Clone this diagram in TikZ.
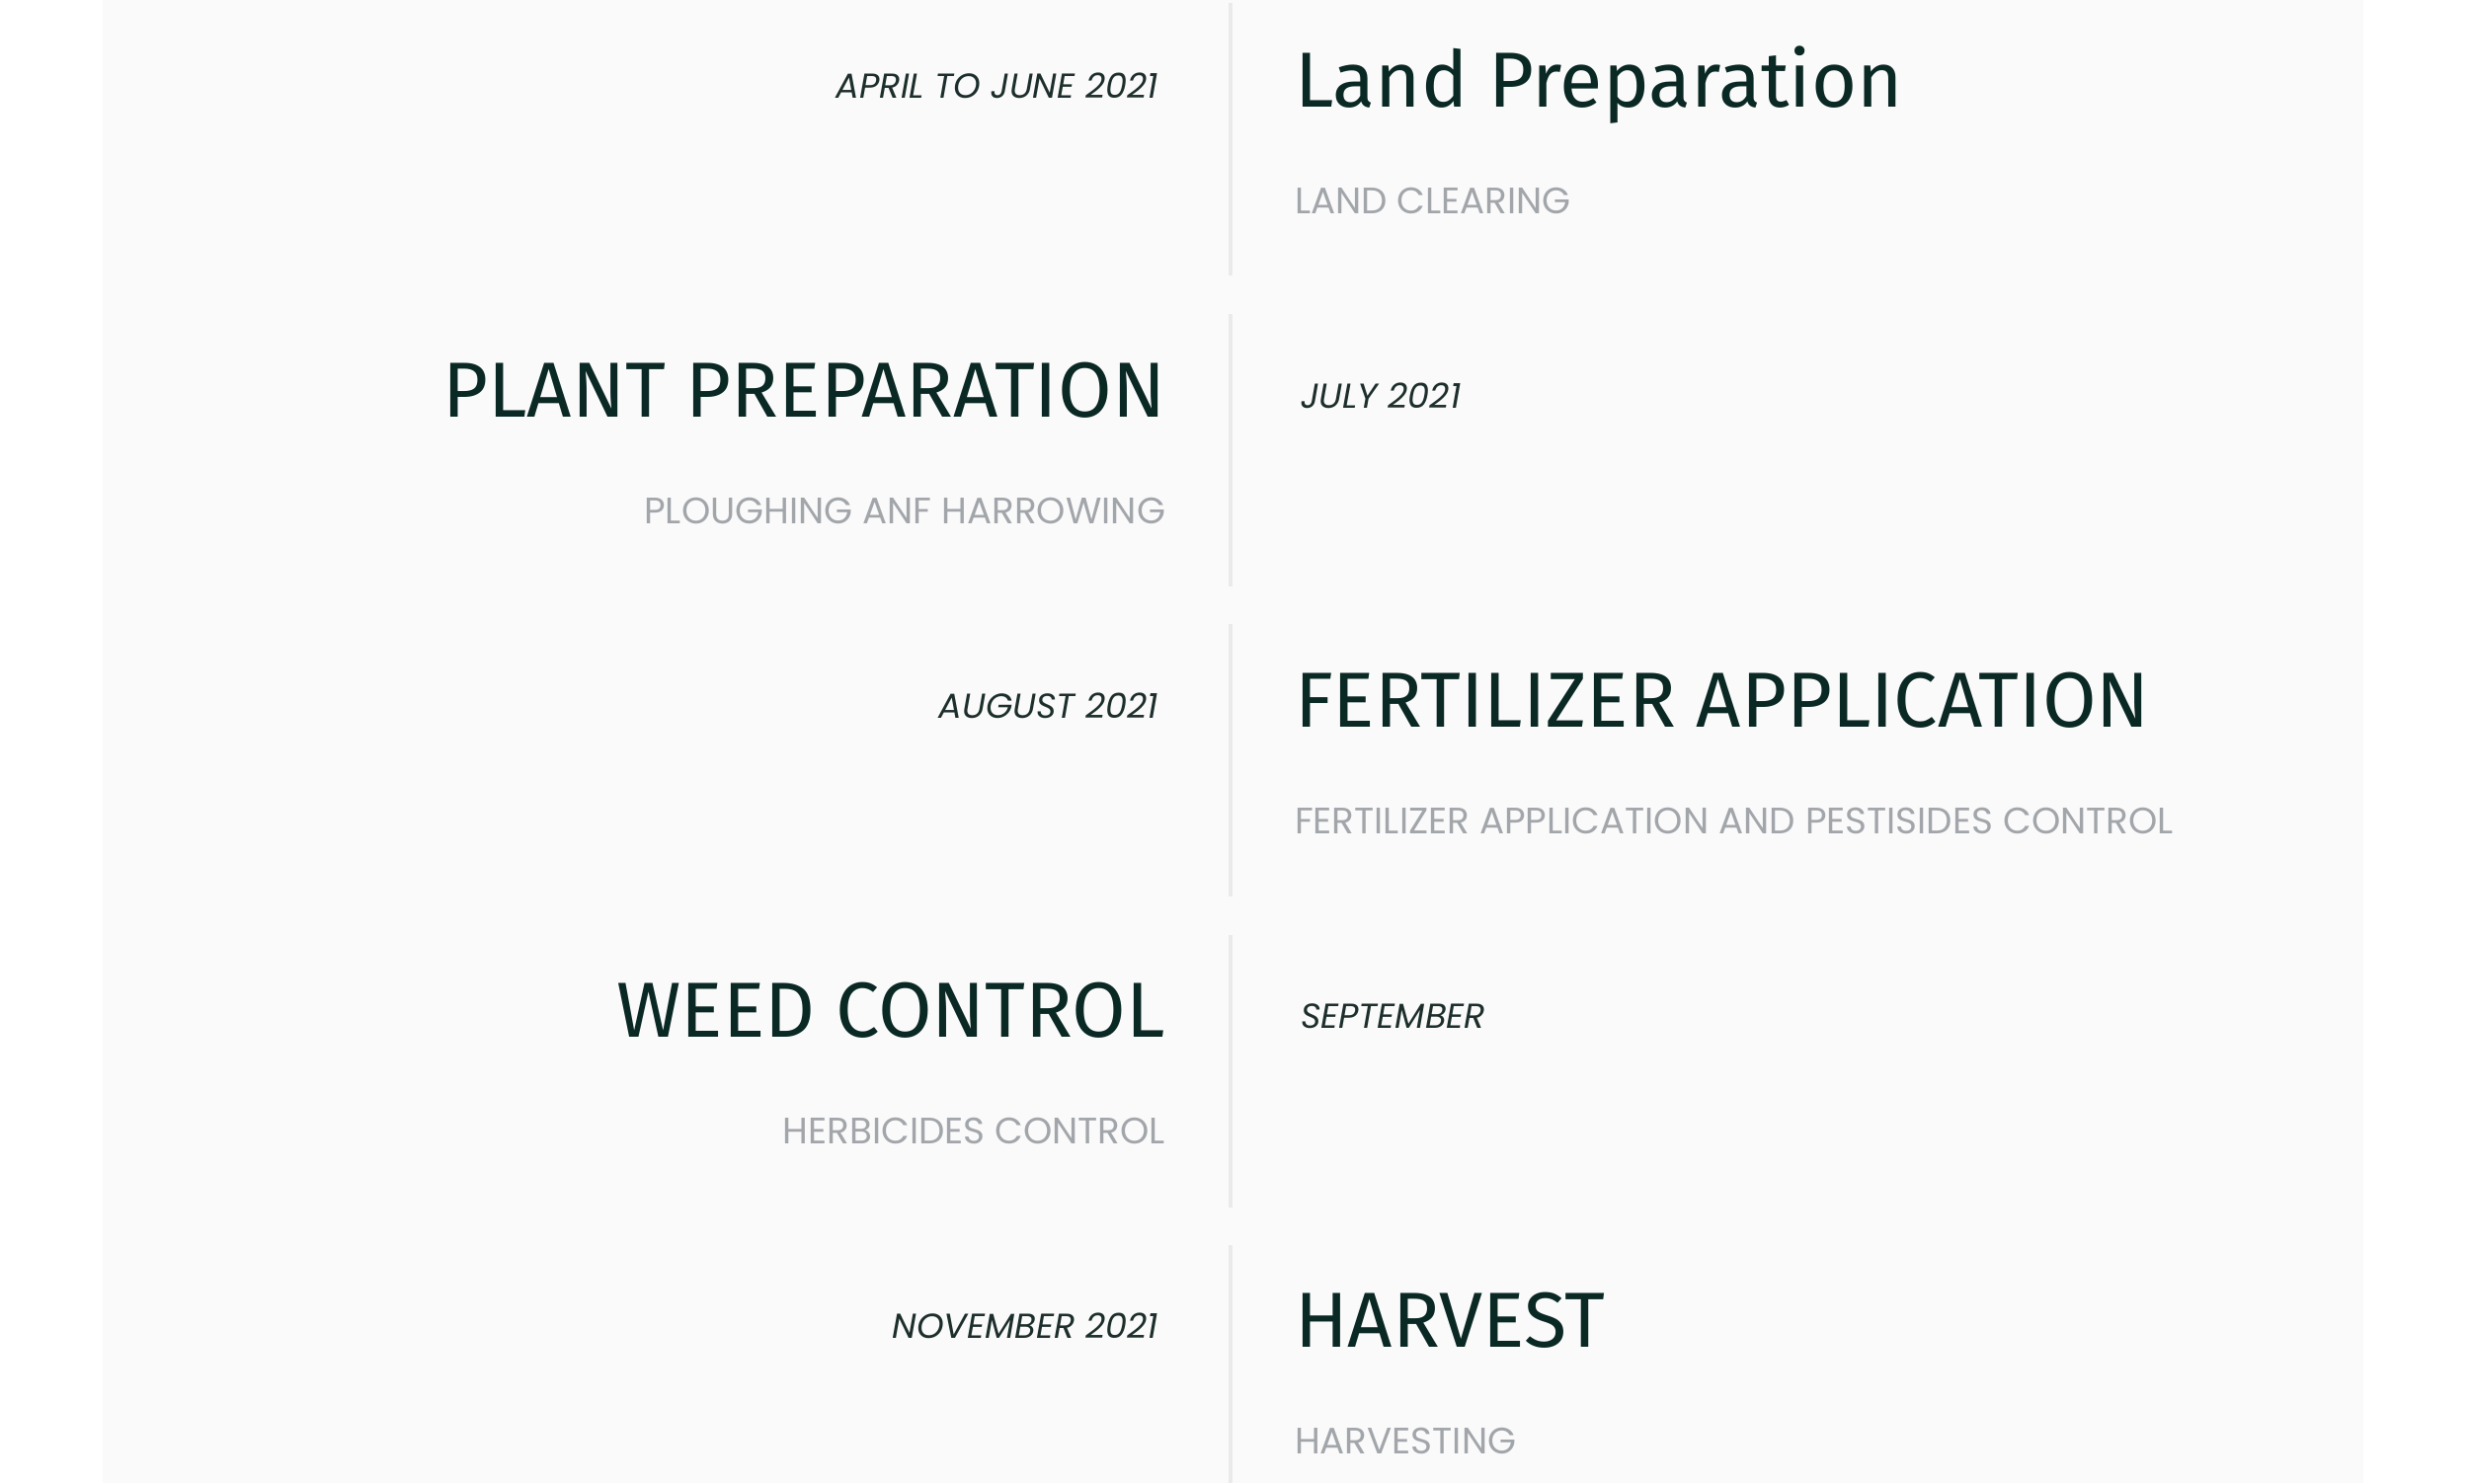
\documentclass[tikz,border=0pt]{standalone}
\usepackage{fontspec}
\usepackage{tikz}
\usetikzlibrary{positioning}

\newfontfamily\headfont{Fira Sans}
\newfontfamily\popfont{Poppins}

\definecolor{headgreen}{HTML}{0B2924}
\definecolor{subgray}{HTML}{A2A6AA}
\definecolor{whengreen}{HTML}{1D2F2C}
\definecolor{panelgray}{HTML}{FAFAFA}
\definecolor{rulegray}{HTML}{EAEAEA}

\begin{document}
\begin{tikzpicture}[x=0.01cm, y=-0.01cm, inner sep=0pt, outer sep=0pt,
    head/.style={font=\headfont\fontsize{22.5}{26}\selectfont, text=headgreen},
    sub/.style={font=\popfont\fontsize{10.6}{12}\selectfont, text=subgray},
    when/.style={font=\popfont\itshape\fontsize{10}{12}\selectfont, text=whengreen},
    rule/.style={draw=rulegray, line width=4*0.2845pt}]

        \useasboundingbox (0,0) rectangle (2500,1502);
        \fill[white] (0,0) rectangle (2500,1502);
        \fill[panelgray] (104,0) rectangle (2393,1502);

        % Timeline
        \foreach \i in {0, 1, 2, 3} {
            \draw[rule] (1246, {3+314.5*\i}) -- (1246, {279+314.5*\i});
        }
        \draw[rule] (1246, 1261) -- (1246, 1502);

        % Stage 1
        \node[when, anchor=base east] (w1) at (1173, 99) {APRIL TO JUNE 2021};
        \node[head, anchor=base west] (h1) at (1311, 108) {Land Preparation};
        \node[sub, anchor=base west] (s1) at (1311, 216) {LAND CLEARING};

        % Stage 2
        \node[head, anchor=base east] (h2) at (1180, 422) {PLANT PREPARATION};
        \node[sub, anchor=base east] (s2) at (1180, 530) {PLOUGHING ANF HARROWING};
        \node[when, anchor=base west] (w2) at (1317, 413) {JULY 2021};

        % Stage 3
        \node[when, anchor=base east] (w3) at (1173, 727) {AUGUST 2021};
        \node[head, anchor=base west] (h3) at (1311, 736) {FERTILIZER APPLICATION};
        \node[sub, anchor=base west] (s3) at (1311, 844) {FERTILIZER APPLICATION AND PESTISIDES CONTROL};

        % Stage 4
        \node[head, anchor=base east] (h4) at (1180, 1050) {WEED CONTROL};
        \node[sub, anchor=base east] (s4) at (1180, 1158) {HERBICIDES CONTROL};
        \node[when, anchor=base west] (w4) at (1317, 1041) {SEPTEMBER};

        % Stage 5
        \node[when, anchor=base east] (w5) at (1173, 1355) {NOVEMBER 2021};
        \node[head, anchor=base west] (h5) at (1311, 1364) {HARVEST};
        \node[sub, anchor=base west] (s5) at (1311, 1472) {HARVESTING};
    \end{tikzpicture}
\end{document}
